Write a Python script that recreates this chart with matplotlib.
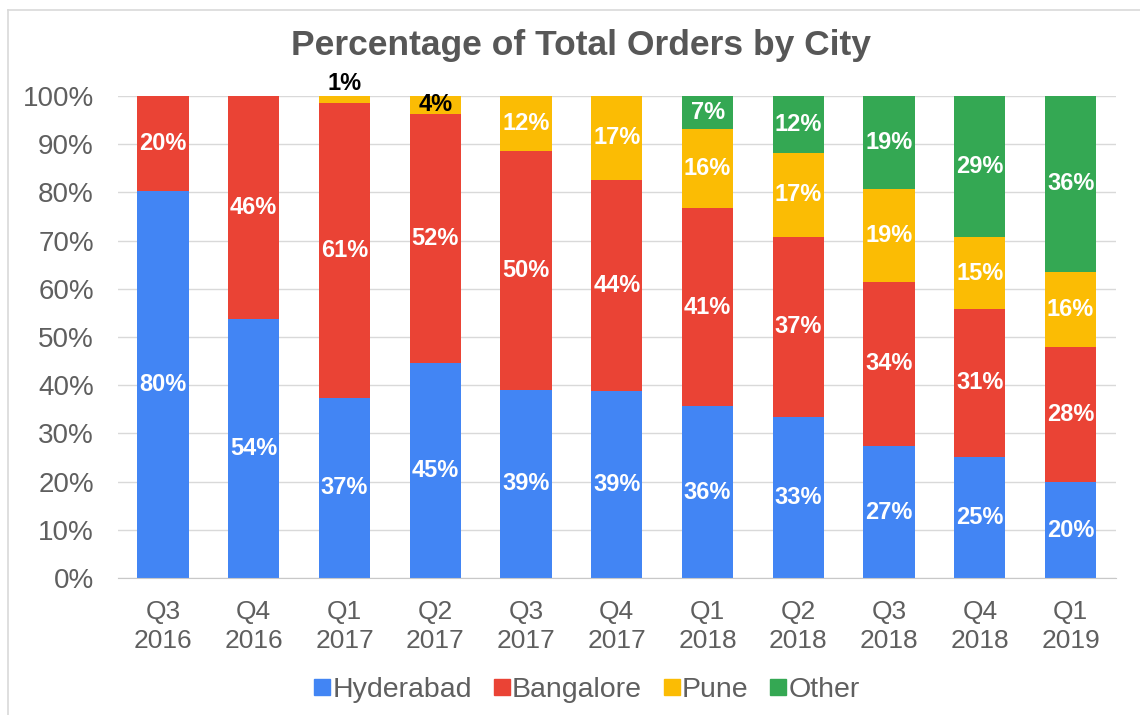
import matplotlib
matplotlib.use("Agg")
import matplotlib.pyplot as plt
from matplotlib.lines import Line2D
import numpy as np

plt.rcParams['font.family'] = ['Liberation Sans', 'DejaVu Sans']

quarters = ["Q3\n2016", "Q4\n2016", "Q1\n2017", "Q2\n2017", "Q3\n2017", "Q4\n2017",
            "Q1\n2018", "Q2\n2018", "Q3\n2018", "Q4\n2018", "Q1\n2019"]
hyderabad = [80.3, 53.7, 37.4, 44.6, 39.1, 38.8, 35.6, 33.4, 27.3, 25.2, 19.9]
bangalore = [19.7, 46.3, 61.2, 51.7, 49.4, 43.8, 41.2, 37.4, 34.2, 30.6, 28.0]
pune      = [0.0, 0.0, 1.4, 3.7, 11.5, 17.4, 16.3, 17.4, 19.2, 14.9, 15.6]
other     = [0.0, 0.0, 0.0, 0.0, 0.0, 0.0, 6.9, 11.8, 19.3, 29.3, 36.5]
hyd_labels  = ["80%", "54%", "37%", "45%", "39%", "39%", "36%", "33%", "27%", "25%", "20%"]
ban_labels  = ["20%", "46%", "61%", "52%", "50%", "44%", "41%", "37%", "34%", "31%", "28%"]
pune_labels = ["", "", "1%", "4%", "12%", "17%", "16%", "17%", "19%", "15%", "16%"]
oth_labels  = ["", "", "", "", "", "", "7%", "12%", "19%", "29%", "36%"]

series = [("Hyderabad", hyderabad, hyd_labels, "#4285F4"),
          ("Bangalore", bangalore, ban_labels, "#EA4335"),
          ("Pune", pune, pune_labels, "#FBBC04"),
          ("Other", other, oth_labels, "#34A853")]

W, H = 1140, 715
fig = plt.figure(figsize=(W / 100, H / 100), dpi=100)
ax = fig.add_axes([117.6 / W, 1 - 578 / H, (1116 - 117.6) / W, (578 - 96) / H])

x = np.arange(len(quarters))
bottom = np.zeros(len(quarters))
for name, vals, labels, color in series:
    v = np.array(vals) / 100.0
    ax.bar(x, v, width=0.565, bottom=bottom, color=color, zorder=2, label=name)
    for i, (val, lab) in enumerate(zip(v, labels)):
        if not lab:
            continue
        if val < 0.025:
            ax.text(x[i], bottom[i] + val + 0.003, lab, ha="center", va="bottom",
                    fontsize=17, fontweight="bold", color="black", zorder=3)
        elif val < 0.06:
            ax.text(x[i], bottom[i] + val / 2, lab, ha="center", va="center",
                    fontsize=17, fontweight="bold", color="black", zorder=3)
        else:
            ax.text(x[i], bottom[i] + val / 2, lab, ha="center", va="center",
                    fontsize=17, fontweight="bold", color="white", zorder=3)
    bottom = bottom + v

ax.set_xlim(-0.5, len(quarters) - 0.5)
ax.set_ylim(0, 1)
ax.set_yticks(np.arange(0, 1.01, 0.1))
ax.set_yticklabels([f"{int(round(t * 100))}%" for t in np.arange(0, 1.01, 0.1)])
ax.set_xticks(x)
ax.set_xticklabels(quarters, linespacing=1.25)
ax.tick_params(axis="both", length=0, labelcolor="#5f5f5f")
ax.tick_params(axis="y", pad=17, labelsize=20)
ax.tick_params(axis="x", pad=16, labelsize=19)
ax.grid(axis="y", color="#d9d9d9", linewidth=1.0, zorder=0)
for s in ["top", "right", "left"]:
    ax.spines[s].set_visible(False)
ax.spines["bottom"].set_color("#c8c8c8")
ax.set_axisbelow(True)

fig.text(0.51, 1 - 45 / H, "Percentage of Total Orders by City", ha="center", va="center",
         fontsize=25.5, fontweight="bold", color="#575757")

handles = [Line2D([0], [0], marker="s", linestyle="none", markersize=11,
                  markerfacecolor=c, markeredgecolor=c) for _, _, _, c in series]
fig.legend(handles, [s[0] for s in series], loc="center", bbox_to_anchor=(0.514, 1 - 690 / H),
           ncol=4, frameon=False, fontsize=20.5, labelcolor="#5f5f5f", handletextpad=0.0,
           columnspacing=0.7, handlelength=0.7)

# figure frame (top and left edges visible)
fig.add_artist(Line2D([8 / W, 8 / W], [0, 1 - 10 / H], transform=fig.transFigure,
                      color="#d9d9d9", linewidth=1.2))
fig.add_artist(Line2D([8 / W, 1], [1 - 10 / H, 1 - 10 / H], transform=fig.transFigure,
                      color="#d9d9d9", linewidth=1.2))

fig.savefig("out.png", dpi=100)
